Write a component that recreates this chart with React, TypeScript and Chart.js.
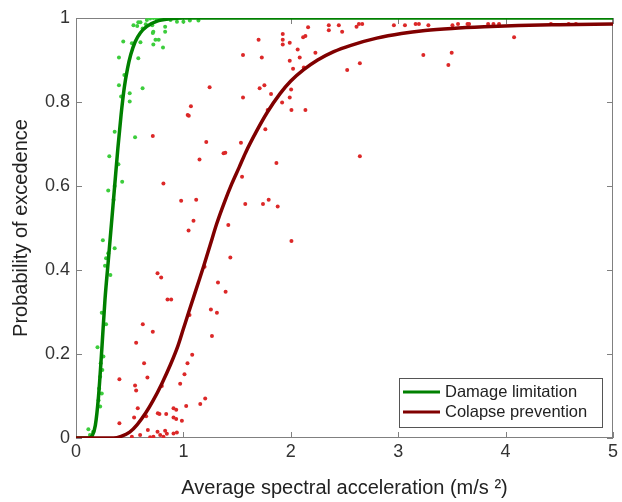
import { useEffect, useRef } from 'react';
import { Chart, registerables } from 'chart.js';
Chart.register(...registerables);

const xTicks = [0, 1, 2, 3, 4, 5];
const yTicks = [0, 0.2, 0.4, 0.6, 0.8, 1];
const xTickLabels = ['0', '1', '2', '3', '4', '5'];
const yTickLabels = ['0', '0.2', '0.4', '0.6', '0.8', '1'];

const seriesNames = ['Damage limitation', 'Colapse prevention'];

const greenCurveX = [0, 0.12, 0.15, 0.18, 0.21, 0.24, 0.27, 0.3, 0.33, 0.36, 0.39, 0.42, 0.45, 0.48, 0.51, 0.55, 0.6, 0.66, 0.75, 0.88, 1.0, 5.0];
const greenCurveY = [0, 0, 0.005, 0.03, 0.1, 0.21, 0.33, 0.42, 0.51, 0.6, 0.69, 0.77, 0.835, 0.88, 0.913, 0.943, 0.965, 0.98, 0.992, 0.998, 1, 1];

const redCurveX = [0, 0.35, 0.42, 0.5, 0.57, 0.65, 0.72, 0.8, 0.88, 0.95, 1.0, 1.05, 1.12, 1.19, 1.25, 1.31, 1.38, 1.45, 1.52, 1.58, 1.68, 1.78, 1.9, 2.0, 2.12, 2.25, 2.4, 2.56, 2.8, 3.03, 3.25, 3.5, 3.8, 4.12, 4.5, 5.0];
const redCurveY = [0, 0, 0.004, 0.014, 0.032, 0.06, 0.09, 0.13, 0.175, 0.22, 0.26, 0.3, 0.355, 0.41, 0.46, 0.51, 0.56, 0.605, 0.645, 0.68, 0.73, 0.775, 0.82, 0.85, 0.877, 0.9, 0.92, 0.935, 0.952, 0.963, 0.97, 0.975, 0.979, 0.982, 0.984, 0.986];

const greenPtsX = [0.44, 0.52, 0.6, 0.4, 0.58, 0.45, 0.62, 0.4, 0.5, 0.42, 0.5, 0.36, 0.55, 0.535, 0.57, 0.66, 0.69, 0.72, 0.75, 0.78, 0.85, 0.88, 0.94, 1.0, 1.06, 1.14, 0.71, 0.72, 0.715, 0.83, 0.83, 0.77, 0.72, 0.81, 0.74, 0.6, 0.62, 0.65, 0.58,
  0.31, 0.395, 0.43, 0.3, 0.36, 0.35, 0.25, 0.36, 0.28, 0.27, 0.32, 0.3,
  0.24, 0.28, 0.2, 0.255, 0.23, 0.245, 0.225, 0.215, 0.24, 0.21, 0.225, 0.115, 0.16, 0.13];
const greenPtsY = [0.944, 0.94, 0.942, 0.906, 0.904, 0.864, 0.833, 0.84, 0.821, 0.813, 0.801, 0.729, 0.716, 0.983, 0.981, 0.995, 0.999, 1.0, 0.998, 0.999, 0.999, 0.995, 0.991, 0.991, 0.994, 0.994, 0.983, 0.967, 0.964, 0.979, 0.967, 0.948, 0.937, 0.93, 0.948, 0.99, 0.975, 0.985, 0.99,
  0.671, 0.652, 0.61, 0.589, 0.6, 0.567, 0.471, 0.452, 0.428, 0.41, 0.388, 0.44,
  0.298, 0.271, 0.216, 0.194, 0.178, 0.162, 0.146, 0.118, 0.106, 0.09, 0.075, 0.021, 0.015, 0.007];

const redPtsX = [1.7, 1.555, 1.73, 1.244, 1.71, 1.754, 1.555, 1.07, 1.04, 1.05, 0.715, 1.213, 1.536, 1.374, 1.39, 1.15, 0.814, 1.546, 0.979, 1.119, 1.576, 1.741, 1.794, 1.094, 1.048, 1.418, 1.437, 1.197, 0.759, 0.793, 1.322, 1.393, 0.852, 0.886,
  0.622, 0.715, 0.56, 1.256, 1.312, 1.266, 1.082, 1.038, 0.634, 1.01, 0.404, 0.665, 0.55, 0.97, 0.56, 1.203, 1.157, 1.026, 0.575, 0.541, 0.653, 0.762, 0.777, 0.84, 0.908, 0.933, 0.986, 0.404, 0.669, 0.759, 0.83, 0.846, 0.784, 0.908, 0.721, 0.69, 0.52, 0.597, 0.814, 0.939, 1.057, 0.799, 0.908, 0.933,
  1.878, 2.006, 1.816, 1.785, 1.763, 1.866, 1.925, 1.925, 1.925, 1.99, 2.064, 2.083, 1.99, 2.021, 2.121, 2.115, 2.136, 2.003, 1.99, 1.919, 2.006, 2.136, 2.161, 2.229, 2.354, 2.354, 2.447, 2.478, 2.525, 2.643, 2.612, 2.634, 2.665, 2.643,
  2.96, 3.063, 3.162, 3.193, 3.281, 3.234, 3.498, 3.467, 3.505, 3.557, 3.645, 3.66, 3.837, 3.887, 3.939, 4.079, 4.422, 4.587, 4.655];
const redPtsY = [0.948, 0.912, 0.906, 0.835, 0.833, 0.84, 0.811, 0.79, 0.769, 0.767, 0.719, 0.705, 0.703, 0.678, 0.679, 0.663, 0.606, 0.622, 0.565, 0.567, 0.557, 0.557, 0.567, 0.517, 0.494, 0.507, 0.43, 0.408, 0.392, 0.382, 0.37, 0.348, 0.33, 0.33,
  0.271, 0.253, 0.227, 0.306, 0.298, 0.243, 0.198, 0.178, 0.178, 0.152, 0.14, 0.144, 0.125, 0.129, 0.113, 0.094, 0.081, 0.076, 0.071, 0.049, 0.052, 0.059, 0.057, 0.057, 0.049, 0.045, 0.041, 0.035, 0.019, 0.015, 0.017, 0.01, 0.007, 0.011, 0.003, 0.002, 0.003, 0.007, 0.003, 0.013, 0.293, 0.124, 0.071, 0.067,
  0.551, 0.469, 0.819, 0.781, 0.735, 0.655, 0.962, 0.948, 0.937, 0.941, 0.925, 0.906, 0.898, 0.879, 0.882, 0.954, 0.957, 0.83, 0.811, 0.799, 0.781, 0.781, 0.978, 0.917, 0.983, 0.971, 0.983, 0.967, 0.876, 0.892, 0.979, 0.986, 0.986, 0.671,
  0.983, 0.983, 0.986, 0.986, 0.983, 0.912, 0.917, 0.888, 0.983, 0.986, 0.986, 0.986, 0.986, 0.986, 0.986, 0.954, 0.986, 0.986, 0.986];

const GREEN_LINE = 'rgb(0,128,0)';
const RED_LINE = 'rgb(128,0,0)';
const GREEN_PT = 'rgb(60,205,60)';
const RED_PT = 'rgb(220,40,40)';
const FONT = "'Liberation Sans', Arial, sans-serif";

const zip = (xs: number[], ys: number[]) => xs.map((x, i) => ({ x, y: ys[i] }));

export default function App() {
  const ref = useRef<HTMLCanvasElement>(null);
  useEffect(() => {
    document.body.style.margin = '0';
    const framePlugin = {
      id: 'frame',
      beforeDatasetsDraw(chart: any) {
        const { ctx, chartArea: a, scales } = chart;
        ctx.save();
        ctx.strokeStyle = '#808080';
        ctx.lineWidth = 1;
        ctx.strokeRect(a.left + 0.5, a.top + 0.5, a.right - a.left - 1, a.bottom - a.top - 1);
        const t = 6;
        ctx.beginPath();
        xTicks.forEach((v) => {
          const px = Math.round(scales.x.getPixelForValue(v)) + 0.5;
          ctx.moveTo(px, a.bottom); ctx.lineTo(px, a.bottom - t);
          ctx.moveTo(px, a.top); ctx.lineTo(px, a.top + t);
        });
        yTicks.forEach((v) => {
          const py = Math.round(scales.y.getPixelForValue(v)) + 0.5;
          ctx.moveTo(a.left, py); ctx.lineTo(a.left + t, py);
          ctx.moveTo(a.right, py); ctx.lineTo(a.right - t, py);
        });
        ctx.stroke();
        ctx.restore();
      },
    };
    const legendPlugin = {
      id: 'boxLegend',
      afterDraw(chart: any) {
        const { ctx, chartArea: a } = chart;
        const right = a.right - 11;
        const bottom = a.bottom - 11;
        const w = 203, h = 49;
        const left = right - w, top = bottom - h;
        ctx.save();
        ctx.fillStyle = '#fff';
        ctx.fillRect(left, top, w, h);
        ctx.strokeStyle = '#555';
        ctx.lineWidth = 1;
        ctx.strokeRect(Math.round(left) + 0.5, Math.round(top) + 0.5, w, h);
        const items = [[seriesNames[0], GREEN_LINE], [seriesNames[1], RED_LINE]];
        items.forEach(([label, color], i) => {
          const y = top + 14 + i * 20;
          ctx.strokeStyle = color;
          ctx.lineWidth = 3;
          ctx.beginPath();
          ctx.moveTo(left + 4, y);
          ctx.lineTo(left + 41, y);
          ctx.stroke();
          ctx.fillStyle = '#222';
          ctx.font = `16.5px ${FONT}`;
          ctx.textBaseline = 'middle';
          ctx.textAlign = 'left';
          ctx.fillText(label, left + 46, y);
        });
        ctx.restore();
      },
    };
    const chart = new Chart(ref.current!, {
      type: 'scatter',
      data: {
        datasets: [
          { label: seriesNames[1], data: zip(redCurveX, redCurveY), showLine: true, borderColor: RED_LINE, backgroundColor: RED_LINE, borderWidth: 3.5, pointRadius: 0, cubicInterpolationMode: 'monotone', order: 0 } as any,
          { label: seriesNames[0], data: zip(greenCurveX, greenCurveY), showLine: true, borderColor: GREEN_LINE, backgroundColor: GREEN_LINE, borderWidth: 3.5, pointRadius: 0, cubicInterpolationMode: 'monotone', order: 1 } as any,
          { label: 'g', data: zip(greenPtsX, greenPtsY), pointRadius: 2, pointBorderWidth: 0, backgroundColor: GREEN_PT, borderColor: GREEN_PT, order: 2 },
          { label: 'r', data: zip(redPtsX, redPtsY), pointRadius: 2, pointBorderWidth: 0, backgroundColor: RED_PT, borderColor: RED_PT, order: 3 },
        ],
      },
      options: {
        animation: false,
        responsive: true,
        maintainAspectRatio: false,
        layout: { padding: { top: 18, right: 9, left: 0, bottom: 0 } },
        plugins: { legend: { display: false }, tooltip: { enabled: false } },
        scales: {
          x: {
            type: 'linear', min: 0, max: 5,
            afterBuildTicks: (s: any) => { s.ticks = xTicks.map((v) => ({ value: v })); },
            afterFit: (s: any) => { s.height = 64; },
            ticks: { callback: (_v: any, i: number) => xTickLabels[i], font: { family: FONT, size: 18 }, color: '#333', padding: 3, maxRotation: 0 },
            grid: { display: false, drawTicks: false },
            border: { display: false },
            title: { display: true, text: 'Average spectral acceleration (m/s ²)', font: { family: FONT, size: 20 }, color: '#222', padding: { top: 2, bottom: 2 } },
          },
          y: {
            type: 'linear', min: 0, max: 1,
            afterBuildTicks: (s: any) => { s.ticks = yTicks.map((v) => ({ value: v })); },
            afterFit: (s: any) => { s.width = 76; },
            ticks: { callback: (_v: any, i: number) => yTickLabels[i], font: { family: FONT, size: 18 }, color: '#333', padding: 6 },
            grid: { display: false, drawTicks: false },
            border: { display: false },
            title: { display: true, text: 'Probability of excedence', font: { family: FONT, size: 20 }, color: '#222', padding: { top: 9, bottom: 0 } },
          },
        },
      },
      plugins: [framePlugin, legendPlugin],
    });
    return () => chart.destroy();
  }, []);
  return (
    <div style={{ width: 622, height: 502, position: 'relative', background: '#fff' }}>
      <canvas ref={ref} />
    </div>
  );
}
